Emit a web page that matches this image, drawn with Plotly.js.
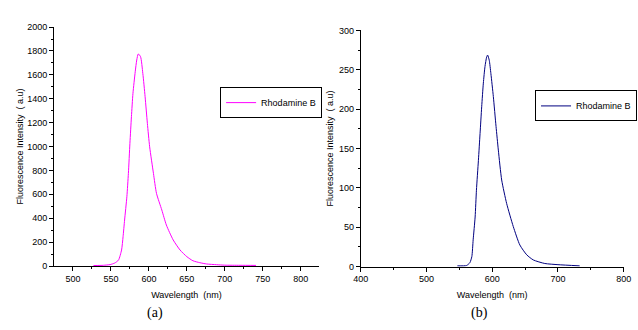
<!DOCTYPE html>
<html>
<head>
<meta charset="utf-8">
<script src="https://cdn.plot.ly/plotly-3.0.1.min.js"></script>
<style>html,body{margin:0;padding:0;background:#fff;}#chart{width:638px;height:330px;}</style>
</head>
<body>
<div id="chart"></div>
<script>
// Panel (a)
var wavelengthA = [527,540,549,555,560,564,566,568,571,573,575,577,579,582,584,586,589,592,595,598,601,606,610,617,623,632,641,650,658,667,676,689,700,720,741];
var intensityA  = [4,6,12,25,50,134,245,385,580,775,1027,1250,1445,1626,1724,1775,1752,1612,1417,1194,998,775,608,469,343,218,134,78,44,28,17,11,7,6,5];
// Panel (b)
var wavelengthB = [547,561,566,569,571,574,576,579,581.5,584,586.5,589,591.5,593,595.5,598,601.7,605.8,609.3,614.4,622,632,642,652.5,662.5,680,700,733];
var intensityB  = [1,1.5,5,12.7,34,63,97,135,169,203,233,254,266,268.6,262,245,216,178,148,110,80,51,27.5,15,8.5,4,2.5,1];
var seriesName = "Rhodamine B";
var xTitle = "Wavelength  (nm)";
var yTitle = "Fluorescence Intensity  ( a.u)";
var panelLabels = ["(a)", "(b)"];

var tickFont = {family: "Liberation Sans, Arial, sans-serif", size: 9, color: "#000"};
var titleFont = {family: "Liberation Sans, Arial, sans-serif", size: 9, color: "#000"};

var traces = [
  {x: wavelengthA, y: intensityA, type: "scatter", mode: "lines", name: seriesName,
   line: {color: "#ff00ff", width: 1, shape: "spline", smoothing: 0.6}, xaxis: "x", yaxis: "y", legend: "legend"},
  {x: wavelengthB, y: intensityB, type: "scatter", mode: "lines", name: seriesName,
   line: {color: "#000080", width: 1, shape: "spline", smoothing: 0.6}, xaxis: "x2", yaxis: "y2", legend: "legend2"}
];

function axBase(extra) {
  var a = {
    showgrid: false, zeroline: false, showline: true, linecolor: "#000", linewidth: 1,
    ticks: "outside", ticklen: 4, tickwidth: 1, tickcolor: "#000",
    tickfont: tickFont, mirror: false
  };
  for (var k in extra) a[k] = extra[k];
  return a;
}

var layout = {
  width: 638, height: 330,
  margin: {l: 0, r: 0, t: 0, b: 0},
  paper_bgcolor: "#fff", plot_bgcolor: "#fff",
  showlegend: true,
  xaxis: axBase({domain: [0.0846, 0.5], range: [475, 824], tickvals: [500,550,600,650,700,750,800],
    minor: {tickvals: [525,575,625,675,725,775], ticks: "outside", ticklen: 2, tickcolor: "#000"},
    anchor: "y", title: {text: xTitle, font: titleFont, standoff: 8}}),
  yaxis: axBase({domain: [0.1939, 0.918], range: [0, 2000], dtick: 200,
    minor: {dtick: 100, ticks: "outside", ticklen: 2, tickcolor: "#000"},
    anchor: "x", title: {text: yTitle, font: titleFont, standoff: 1}}),
  xaxis2: axBase({domain: [0.5654, 0.9776], range: [400, 800], dtick: 100,
    minor: {dtick: 50, ticks: "outside", ticklen: 2, tickcolor: "#000"},
    anchor: "y2", title: {text: xTitle, font: titleFont, standoff: 8}}),
  yaxis2: axBase({domain: [0.192, 0.908], range: [0, 300], dtick: 50,
    minor: {dtick: 25, ticks: "outside", ticklen: 2, tickcolor: "#000"},
    anchor: "x2", title: {text: yTitle, font: titleFont, standoff: 3}}),
  legend: {x: 0.345, y: 0.736, xanchor: "left", yanchor: "top", xref: "paper", yref: "paper",
    bgcolor: "#fff", bordercolor: "#000", borderwidth: 1, itemwidth: 30,
    font: {family: "Liberation Sans, Arial, sans-serif", size: 9, color: "#000"}},
  legend2: {x: 0.8386, y: 0.726, xanchor: "left", yanchor: "top", xref: "paper", yref: "paper",
    bgcolor: "#fff", bordercolor: "#000", borderwidth: 1, itemwidth: 30,
    font: {family: "Liberation Sans, Arial, sans-serif", size: 9, color: "#000"}},
  annotations: [
    {text: panelLabels[0], xref: "paper", yref: "paper", x: 155/638, y: (330-313)/330, xanchor: "center", yanchor: "middle",
     showarrow: false, font: {family: "Liberation Serif, Times New Roman, serif", size: 14, color: "#000"}},
    {text: panelLabels[1], xref: "paper", yref: "paper", x: 479/638, y: (330-313)/330, xanchor: "center", yanchor: "middle",
     showarrow: false, font: {family: "Liberation Serif, Times New Roman, serif", size: 14, color: "#000"}}
  ]
};

Plotly.newPlot("chart", traces, layout, {staticPlot: true, displayModeBar: false});
</script>
</body>
</html>
